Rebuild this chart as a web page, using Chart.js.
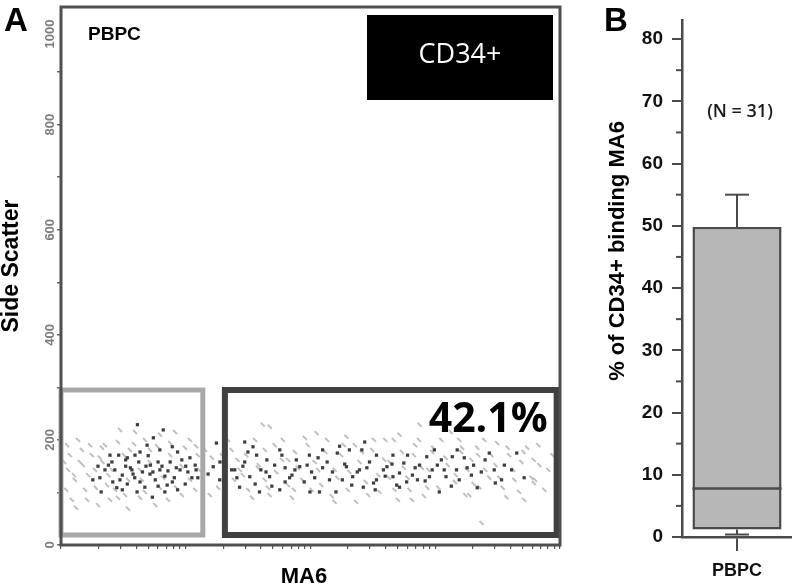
<!DOCTYPE html>
<html>
<head>
<meta charset="utf-8">
<title>MA6 binding on CD34+ PBPC</title>
<script src="https://cdn.jsdelivr.net/npm/chart.js@4.4.1/dist/chart.umd.min.js"></script>
<style>
  html, body { margin: 0; padding: 0; background: #fff; }
  #wrap { position: relative; width: 792px; height: 586px; overflow: hidden; }
  #scatterA { position: absolute; left: 0; top: 0; }
  #boxB { position: absolute; left: 590px; top: 0; }
</style>
</head>
<body>
<div id="wrap">
  <canvas id="scatterA" width="575" height="586"></canvas>
  <canvas id="boxB" width="202" height="586"></canvas>
</div>
<script>
'use strict';

// ---- Panel A: MA6 (log) vs side scatter ----
const ssTicks = [0, 200, 400, 600, 800, 1000];
const ma6Decades = [1, 10, 100, 1000, 10000];

// dark events (gated CD34+)
const darkCells = [
  [4.1, 229], [6.6, 219], [5.5, 204], [7.8, 187], [2.9, 171], [3.4, 166], [4.3, 177],
  [2.4, 152], [2.7, 143], [3.1, 133], [3.6, 147], [3.9, 128], [4.5, 139], [5.2, 152],
  [5.7, 124], [6.2, 143], [6.8, 131], [7.5, 158], [8.4, 147], [9.3, 162], [10.4, 139],
  [11.9, 152], [12.5, 128], [2.05, 128], [1.8, 124], [2.1, 101], [2.8, 109], [5.4, 91],
  [3.4, 116], [4.7, 110], [2.6, 120], [4.2, 158], [5.0, 170], [6.0, 158], [7.1, 114],
  [8.1, 128], [9.9, 116], [10.8, 166], [8.6, 177], [3.7, 143], [3.3, 150],
  [2.25, 143], [2.56, 158], [2.97, 124], [3.3, 162], [3.78, 135], [4.3, 120], [4.8, 150],
  [5.45, 139], [6.0, 112], [6.45, 150], [7.2, 141], [7.8, 120], [9.0, 143], [10, 150],
  [11.2, 128], [12.1, 143], [2.47, 171], [1.98, 150], [3.1, 105], [4.07, 101], [5.17, 135],
  [6.8, 101], [8.6, 105], [3.92, 171], [6.2, 181], [4.9, 190],
  [17.6, 194], [16.6, 149], [15.1, 135], [18.7, 124], [18.8, 158], [21, 171],
  [29.7, 196], [34.6, 187], [56.7, 181], [125, 181], [164, 175], [205, 181], [272, 196],
  [258, 181], [338, 171], [458, 171], [600, 171], [855, 168], [983, 181], [1370, 168],
  [1500, 181], [2030, 152], [2710, 175], [4500, 175], [3030, 118], [1077, 101], [517, 110],
  [320, 118], [265, 110], [160, 101], [118, 101], [99, 101], [56.7, 105], [39, 101],
  [27, 110], [32.6, 130], [47, 130], [71, 133], [82, 149], [150, 139], [218, 130],
  [338, 124], [458, 130], [656, 133], [899, 130], [1220, 130], [1557, 124], [1800, 147],
  [1040, 152], [748, 152], [560, 156], [410, 149], [283, 147], [194, 149], [125, 147],
  [94, 152], [77, 162], [44.7, 162], [37, 171], [24.7, 143], [29.7, 158], [40, 143],
  [51.6, 152], [62.6, 120], [75, 143], [108, 128], [136, 158], [180, 124], [237, 139],
  [384, 143], [491, 114], [720, 124], [1180, 143], [2340, 139], [3580, 152],
  [23.3, 143], [25.7, 128], [28.7, 150], [36, 116], [44, 139], [49, 112], [62.6, 147],
  [68, 128], [89, 120], [102, 139], [115, 166], [142, 124], [188, 154], [214, 114],
  [247, 143], [297, 158], [330, 105], [397, 131], [450, 154], [517, 137], [590, 120],
  [690, 147], [830, 122], [945, 143], [1120, 162], [1345, 112], [1480, 143], [1710, 166],
  [1950, 133], [2170, 109], [2510, 162], [2970, 143], [3400, 124], [4090, 143], [5160, 128],
  [31.5, 177], [59, 171], [98, 171], [171, 188]
];

// light events (ungated background)
const lightCells = [
  [1.18, 171], [1.14, 143], [1.29, 124], [1.42, 158], [1.56, 105], [1.22, 86], [1.71, 190],
  [1.87, 143], [1.65, 133], [1.37, 200], [2.05, 166], [2.25, 190], [2.47, 86], [1.98, 76],
  [3.45, 69], [2.97, 219], [3.92, 215], [4.71, 200], [6.22, 210], [8.2, 215], [10.8, 200],
  [9.3, 95], [7.2, 86], [5.7, 76], [4.3, 90], [3.26, 95], [2.71, 105], [2.4, 133],
  [4.45, 124], [6.2, 109], [7.5, 171], [9.86, 185], [12.5, 171], [11.9, 105], [5.17, 181],
  [2.86, 196], [3.57, 181], [2.15, 158], [1.47, 181], [1.1, 105],
  [1.06, 158], [1.12, 190], [1.27, 133], [1.32, 71], [1.5, 152], [1.62, 86], [1.77, 171],
  [1.9, 109], [2.13, 185], [2.34, 114], [2.56, 143], [2.86, 90], [3.2, 171], [3.45, 124],
  [3.85, 192], [4.3, 143], [4.7, 101], [5.17, 158], [5.9, 188], [6.6, 128], [7.5, 194],
  [8.4, 109], [9.3, 150], [10.8, 124], [12.1, 188], [12.8, 143],
  [14.3, 181], [16.2, 166], [18.2, 109], [15.6, 95], [19.5, 171],
  [41.5, 229], [47.2, 225], [112, 213], [194, 206], [517, 210], [748, 229], [1557, 200],
  [3130, 194], [6160, 162], [6300, 124], [6160, 118], [3720, 91], [2253, 110], [1873, 95],
  [650, 86], [156, 82], [71, 90], [47, 95], [2350, 42], [23.3, 181], [26, 162], [28.7, 133],
  [31.6, 105], [35.9, 200], [37.9, 147], [43, 124], [51.6, 190], [59, 162], [66, 114],
  [75, 177], [86, 124], [95, 190], [108, 158], [122, 114], [136, 200], [156, 143],
  [176, 171], [199, 105], [227, 190], [247, 158], [290, 95], [312, 181], [350, 133],
  [398, 200], [430, 158], [471, 105], [540, 177], [600, 128], [690, 190], [780, 147],
  [862, 109], [945, 177], [1120, 200], [1260, 152], [1440, 120], [1610, 177], [1740, 95],
  [1950, 162], [2170, 185], [2510, 143], [2820, 171], [3260, 128], [3920, 171], [4300, 124],
  [4900, 158], [5460, 185], [6830, 152], [7490, 105], [5160, 86],
  [21.8, 200], [24.3, 124], [27.1, 143], [30.5, 171], [34, 90], [38.5, 152], [43, 181],
  [45.6, 109], [53, 139], [60, 200], [66, 162], [73.6, 105], [79, 147], [90, 204],
  [102, 105], [115, 143], [131, 177], [148, 93], [164, 128], [185, 190], [205, 139],
  [232, 82], [258, 177], [278, 120], [323, 200], [357, 101], [390, 162], [425, 128],
  [465, 200], [502, 86], [560, 147], [622, 105], [675, 171], [740, 200], [812, 93],
  [880, 143], [963, 185], [1060, 109], [1210, 166], [1330, 215], [1460, 133], [1640, 185],
  [1800, 143], [2030, 116], [2210, 171], [2470, 200], [2710, 128], [3040, 152], [3470, 109],
  [3810, 185], [4220, 143], [4700, 101], [5100, 177], [5900, 128], [6700, 190], [8050, 143],
  [8700, 171]
];

// gates, in data units: [from, to]
const lightGateX = [1, 13.7];
const lightGateY = [19, 295];
const darkGateX = [20.6, 9400];
const darkGateY = [19, 295];
const gatePercent = '42.1%';

// ---- Panel B: % of CD34+ binding MA6 ----
const groups = ['PBPC'];
const boxLow = [1.2];
const boxHigh = [49.8];
const medians = [7.8];
const whiskerTop = [55];
const whiskerBottom = [0.4];
const pctTicks = [0, 10, 20, 30, 40, 50, 60, 70, 80];
const nLabel = '(N = 31)';

const ARIAL = '"Liberation Sans", Arial, sans-serif';
const CALIBRI = '"Open Sans", "Liberation Sans", sans-serif';

function gateDataset(gx, gy, color, width) {
  return {
    data: [
      { x: gx[0], y: gy[0] }, { x: gx[1], y: gy[0] }, { x: gx[1], y: gy[1] },
      { x: gx[0], y: gy[1] }, { x: gx[0], y: gy[0] }
    ],
    showLine: true,
    borderColor: color,
    borderWidth: width,
    borderJoinStyle: 'miter',
    borderCapStyle: 'square',
    pointRadius: 0,
    fill: false,
    clip: false
  };
}

// minor + major log ticks, 1..10^4
const ma6Ticks = [];
ma6Decades.slice(0, -1).forEach(function(d) {
  for (let k = 1; k < 10; k++) ma6Ticks.push(d * k);
});
ma6Ticks.push(ma6Decades[ma6Decades.length - 1]);

function rotatedText(ctx, text, x, y, align) {
  ctx.save();
  ctx.translate(x, y);
  ctx.rotate(-Math.PI / 2);
  ctx.textAlign = align || 'center';
  ctx.fillText(text, 0, 0);
  ctx.restore();
}

const panelA = {
  id: 'panelA',
  afterDraw(chart) {
    const { ctx, chartArea: a } = chart;
    const x = chart.scales.x;
    const y = chart.scales.y;
    ctx.save();

    // frame
    ctx.strokeStyle = '#4f4f4f';
    ctx.lineWidth = 3;
    ctx.strokeRect(a.left, a.top, a.right - a.left, a.bottom - a.top);

    // rotated side scatter tick labels
    ctx.fillStyle = '#7d7d7d';
    ctx.font = 'bold 13px ' + ARIAL;
    ctx.textBaseline = 'middle';
    ssTicks.forEach(function(v, i) {
      const last = i === ssTicks.length - 1;
      rotatedText(ctx, String(v), a.left - 11, y.getPixelForValue(v), last ? 'right' : 'center');
    });

    // axis titles
    ctx.fillStyle = '#000';
    ctx.font = 'bold 23px ' + ARIAL;
    rotatedText(ctx, 'Side Scatter', 12, 266);
    ctx.font = 'bold 22px ' + ARIAL;
    ctx.textAlign = 'center';
    ctx.textBaseline = 'alphabetic';
    ctx.fillText('MA6', 304, 583);

    // panel letter + sample name
    ctx.textAlign = 'left';
    ctx.font = 'bold 33px ' + ARIAL;
    ctx.fillText('A', 4, 31);
    ctx.font = 'bold 19px ' + ARIAL;
    ctx.fillText('PBPC', 88, 40);

    // CD34+ tag
    ctx.fillStyle = '#000';
    ctx.fillRect(a.right - 193, a.top + 8, 186, 85);
    ctx.fillStyle = '#fff';
    ctx.font = '27px ' + CALIBRI;
    ctx.textAlign = 'center';
    ctx.textBaseline = 'middle';
    ctx.fillText('CD34+', a.right - 100, a.top + 48);

    // gate percentage
    ctx.fillStyle = '#000';
    ctx.font = 'bold 41px ' + CALIBRI;
    ctx.textAlign = 'right';
    ctx.textBaseline = 'alphabetic';
    ctx.fillText(gatePercent, x.getPixelForValue(darkGateX[1]) - 9, y.getPixelForValue(darkGateY[1]) + 42);

    ctx.restore();
  }
};

new Chart(document.getElementById('scatterA'), {
  type: 'scatter',
  data: {
    datasets: [
      gateDataset(lightGateX, lightGateY, '#a8a8a8', 5),
      gateDataset(darkGateX, darkGateY, '#404040', 6),
      {
        data: darkCells.map(function(p) { return { x: p[0], y: p[1] }; }),
        pointStyle: 'rect',
        pointRadius: 2.3,
        backgroundColor: '#3e3e3e',
        borderWidth: 0
      },
      {
        data: lightCells.map(function(p) { return { x: p[0], y: p[1] }; }),
        pointStyle: 'line',
        rotation: 45,
        pointRadius: 2.8,
        borderColor: '#c0c0c0',
        borderWidth: 2
      }
    ]
  },
  options: {
    responsive: false,
    animation: false,
    events: [],
    layout: { padding: { top: 7, right: 15, left: 0, bottom: 0 } },
    plugins: { legend: { display: false }, tooltip: { enabled: false } },
    scales: {
      x: {
        type: 'logarithmic',
        min: ma6Decades[0],
        max: ma6Decades[ma6Decades.length - 1],
        ticks: { display: false },
        afterBuildTicks: function(s) { s.ticks = ma6Ticks.map(function(v) { return { value: v }; }); },
        afterFit: function(s) { s.height = 41; },
        grid: { drawOnChartArea: false, tickLength: 4, color: '#555', lineWidth: 1.2 },
        border: { display: false }
      },
      y: {
        min: 0,
        max: 1024,
        ticks: { display: false, stepSize: 100 },
        afterBuildTicks: function(s) { s.ticks = s.ticks.filter(function(t) { return t.value % 100 === 0; }); },
        afterFit: function(s) { s.width = 61; },
        grid: { drawOnChartArea: false, tickLength: 4, color: '#666', lineWidth: 1.5 },
        border: { display: false }
      }
    }
  },
  plugins: [panelA]
});

const panelB = {
  id: 'panelB',
  afterDatasetsDraw(chart) {
    const { ctx, chartArea: a } = chart;
    const xs = chart.scales.x;
    const ys = chart.scales.y;
    const bars = chart.getDatasetMeta(0).data;
    ctx.save();
    ctx.strokeStyle = '#4a4a4a';
    ctx.lineCap = 'butt';

    function seg(x1, y1, x2, y2) {
      ctx.beginPath();
      ctx.moveTo(x1, y1);
      ctx.lineTo(x2, y2);
      ctx.stroke();
    }

    groups.forEach(function(g, i) {
      const cx = xs.getPixelForValue(i);
      const half = bars[i].width / 2;
      ctx.lineWidth = 2;
      const top = ys.getPixelForValue(whiskerTop[i]);
      seg(cx, ys.getPixelForValue(boxHigh[i]), cx, top);
      seg(cx - 12, top, cx + 12, top);
      const bot = ys.getPixelForValue(whiskerBottom[i]);
      seg(cx, ys.getPixelForValue(boxLow[i]), cx, bot);
      seg(cx - 12, bot, cx + 12, bot);
      ctx.lineWidth = 2.5;
      const med = ys.getPixelForValue(medians[i]);
      seg(cx - half, med, cx + half, med);
      ctx.fillStyle = '#1a1a1a';
      ctx.font = '600 18px ' + CALIBRI;
      ctx.textAlign = 'center';
      ctx.textBaseline = 'middle';
      ctx.fillText(nLabel, cx + 3, 112);
    });

    // minor ticks
    ctx.lineWidth = 2;
    for (let v = 5; v < ys.max; v += 10) {
      const py = ys.getPixelForValue(v);
      seg(a.left - 6, py, a.left, py);
    }
    ctx.restore();
  },
  afterDraw(chart) {
    const ctx = chart.ctx;
    ctx.save();
    ctx.fillStyle = '#000';
    ctx.font = 'bold 33px ' + ARIAL;
    ctx.textAlign = 'left';
    ctx.textBaseline = 'alphabetic';
    ctx.fillText('B', 14, 31);
    ctx.font = 'bold 22px ' + ARIAL;
    ctx.textBaseline = 'middle';
    rotatedText(ctx, '% of CD34+ binding MA6', 28, 251);
    ctx.restore();
  }
};

new Chart(document.getElementById('boxB'), {
  type: 'bar',
  data: {
    labels: groups,
    datasets: [{
      data: groups.map(function(g, i) { return [boxLow[i], boxHigh[i]]; }),
      backgroundColor: '#b7b7b7',
      borderColor: '#4a4a4a',
      borderWidth: 2.5,
      borderSkipped: false,
      barPercentage: 0.9,
      categoryPercentage: 0.9
    }]
  },
  options: {
    responsive: false,
    animation: false,
    events: [],
    layout: { padding: { top: 7, right: 0, left: 0, bottom: 0 } },
    plugins: { legend: { display: false }, tooltip: { enabled: false } },
    scales: {
      x: {
        grid: { offset: false, drawOnChartArea: false, tickLength: 14, color: '#4a4a4a', lineWidth: 2 },
        border: { color: '#4a4a4a', width: 2.5 },
        ticks: { color: '#111', padding: 9, font: { family: ARIAL, weight: 'bold', size: 18 } },
        afterFit: function(s) { s.height = 49; }
      },
      y: {
        min: 0,
        max: 83,
        ticks: {
          color: '#111',
          padding: 9,
          font: { family: ARIAL, weight: 'bold', size: 19 }
        },
        afterBuildTicks: function(s) { s.ticks = pctTicks.map(function(v) { return { value: v }; }); },
        afterFit: function(s) { s.width = 92; },
        grid: { drawOnChartArea: false, tickLength: 10, color: '#4a4a4a', lineWidth: 2 },
        border: { color: '#4a4a4a', width: 2.5 }
      }
    }
  },
  plugins: [panelB]
});
</script>
</body>
</html>
